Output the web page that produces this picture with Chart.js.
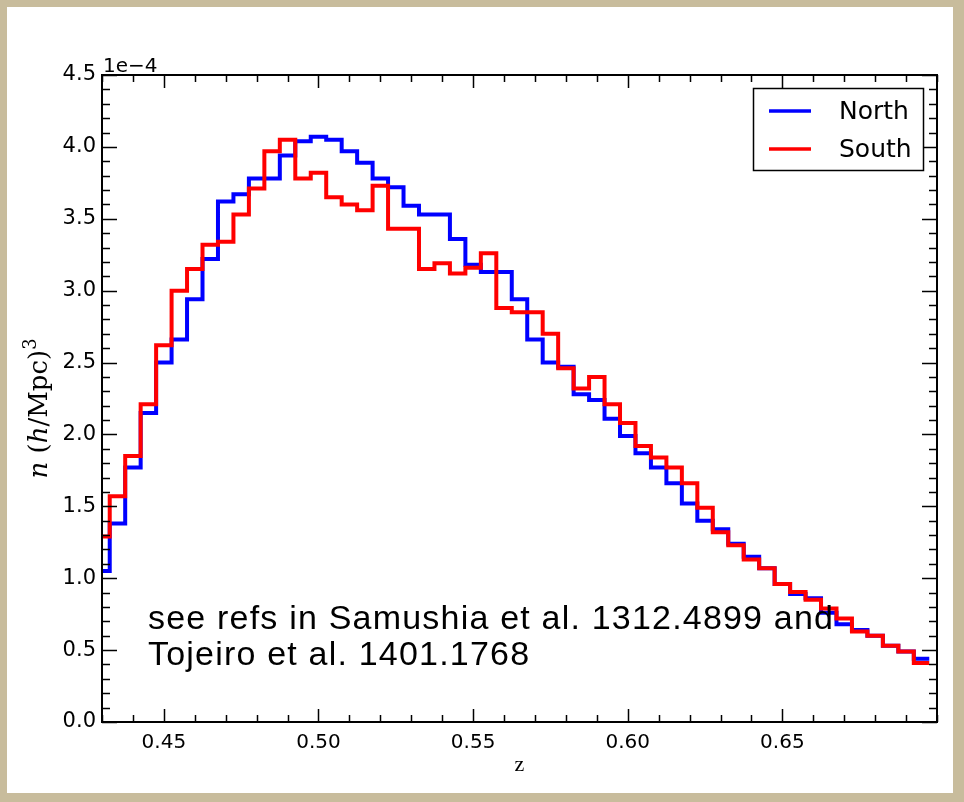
<!DOCTYPE html>
<html><head><meta charset="utf-8">
<script src="https://cdn.jsdelivr.net/npm/chart.js@4.4.1/dist/chart.umd.min.js"></script>
<style>
html,body{margin:0;padding:0;background:#c8bc9c;overflow:hidden;}
#wrap{position:absolute;left:0;top:0;width:964px;height:802px;}
#panel{position:absolute;left:7px;top:7px;width:946px;height:786px;background:#fff;}
canvas{position:absolute;left:0;top:0;}
</style></head><body>
<div id="wrap"><div id="panel"></div><canvas id="c" width="964" height="802"></canvas></div>
<script>
// bin centres (redshift z)
const binCenters = [0.430,0.435,0.440,0.445,0.450,0.455,0.460,0.465,0.470,0.475,
  0.480,0.485,0.490,0.495,0.500,0.505,0.510,0.515,0.520,0.525,
  0.530,0.535,0.540,0.545,0.550,0.555,0.560,0.565,0.570,0.575,
  0.580,0.585,0.590,0.595,0.600,0.605,0.610,0.615,0.620,0.625,
  0.630,0.635,0.640,0.645,0.650,0.655,0.660,0.665,0.670,0.675,
  0.680,0.685,0.690,0.695];
const binWidth = 0.005;
// n(z) in units of 1e-4 (h/Mpc)^3
const north = [1.05,1.38,1.77,2.15,2.50,2.66,2.94,3.22,3.62,3.67,
  3.78,3.78,3.94,4.04,4.07,4.05,3.97,3.89,3.78,3.72,
  3.59,3.53,3.53,3.36,3.18,3.13,3.13,2.94,2.66,2.50,
  2.47,2.28,2.24,2.11,1.99,1.87,1.77,1.66,1.52,1.40,
  1.34,1.24,1.15,1.07,0.96,0.89,0.86,0.76,0.68,0.64,
  0.60,0.53,0.49,0.44];
const south = [1.29,1.57,1.85,2.21,2.62,3.00,3.15,3.32,3.34,3.53,
  3.71,3.97,4.05,3.78,3.82,3.65,3.60,3.56,3.73,3.43,
  3.43,3.15,3.19,3.12,3.16,3.26,2.88,2.85,2.85,2.70,
  2.46,2.32,2.40,2.21,2.08,1.92,1.84,1.77,1.66,1.49,
  1.32,1.23,1.13,1.07,0.96,0.905,0.85,0.79,0.72,0.63,
  0.60,0.53,0.49,0.41];
const xTickValues = [0.45,0.50,0.55,0.60,0.65];
const yTickValues = [0.0,0.5,1.0,1.5,2.0,2.5,3.0,3.5,4.0,4.5];
const xMinorStep = 0.01, yMinorStep = 0.1;
const seriesNames = ['North','South'];
const seriesColors = ['#0000ff','#ff0000'];
const noteLines = ['see refs in Samushia et al. 1312.4899 and','Tojeiro et al. 1401.1768'];

function histPoints(vals){
  return binCenters.flatMap((c,i)=>[{x:c-binWidth/2,y:vals[i]},{x:c+binWidth/2,y:vals[i]}]);
}

const decor = {
  id:'decor',
  afterDatasetsDraw(chart){
    const {ctx, chartArea:a, scales:{x,y}} = chart;
    ctx.save();
    ctx.strokeStyle='#000'; ctx.lineWidth=1.5;
    const MAJ=13, MIN=7;
    ctx.beginPath();
    const isMajor=(arr,v)=>arr.some(t=>Math.abs(t-v)<1e-9);
    for(let i=Math.round(x.min/xMinorStep); i<=Math.round(x.max/xMinorStep); i++){
      const v=i*xMinorStep; const px=Math.round(x.getPixelForValue(v))+0.5;
      const L=isMajor(xTickValues,v)?MAJ:MIN;
      ctx.moveTo(px,a.bottom); ctx.lineTo(px,a.bottom-L);
      ctx.moveTo(px,a.top); ctx.lineTo(px,a.top+L);
    }
    for(let i=Math.round(y.min/yMinorStep); i<=Math.round(y.max/yMinorStep); i++){
      const v=i*yMinorStep; const py=Math.round(y.getPixelForValue(v))+0.5;
      const L=isMajor(yTickValues,v)?MAJ+2:MIN+1;
      ctx.moveTo(a.left,py); ctx.lineTo(a.left+L,py);
      ctx.moveTo(a.right,py); ctx.lineTo(a.right-L,py);
    }
    ctx.stroke();
    ctx.lineWidth=2;
    ctx.strokeRect(a.left,a.top,a.right-a.left,a.bottom-a.top);
    ctx.restore();
  },
  afterDraw(chart){
    const {ctx, chartArea:a} = chart;
    ctx.save();
    ctx.fillStyle='#000';
    ctx.font='20px "DejaVu Sans"';
    ctx.textBaseline='alphabetic'; ctx.textAlign='left';
    ctx.fillText('1e\u22124', a.left+1, a.top-3);
    // legend
    const lx=753, ly=88, lw=170, lh=82;
    ctx.fillStyle='#fff'; ctx.fillRect(lx,ly,lw,lh);
    ctx.strokeStyle='#000'; ctx.lineWidth=1.5; ctx.strokeRect(lx+0.5,ly+0.5,lw,lh);
    ctx.font='25px "DejaVu Sans"'; ctx.textBaseline='middle';
    seriesNames.forEach((n,i)=>{
      const yy = ly+23+i*38;
      ctx.strokeStyle=seriesColors[i]; ctx.lineWidth=3.5;
      ctx.beginPath(); ctx.moveTo(769,yy); ctx.lineTo(811,yy); ctx.stroke();
      ctx.fillStyle='#000'; ctx.fillText(n, 839, yy+1);
    });
    // annotation
    ctx.font='34px "Liberation Sans"'; ctx.textBaseline='alphabetic';
    if ('letterSpacing' in ctx) ctx.letterSpacing='1.2px';
    ctx.fillText(noteLines[0],148,629);
    ctx.fillText(noteLines[1],148,665);
    if ('letterSpacing' in ctx) ctx.letterSpacing='0px';
    // y-axis label  n (h/Mpc)^3
    ctx.translate(47,(a.top+a.bottom)/2+80);
    ctx.rotate(-Math.PI/2);
    const runs=[['n','italic 26px "DejaVu Serif"',0],[' (','26px "DejaVu Serif"',0],['h','italic 26px "DejaVu Serif"',0],
      ['/Mpc)','26px "DejaVu Serif"',0],['3','18px "DejaVu Serif"',-11]];
    let px=0;
    runs.forEach(([t,f,dy])=>{ctx.font=f; ctx.fillText(t,px,dy); px+=ctx.measureText(t).width;});
    ctx.restore();
  }
};

Chart.defaults.font.family='"DejaVu Sans"';
Chart.defaults.color='#000';
new Chart(document.getElementById('c'),{
  type:'line',
  data:{datasets:[
    {label:seriesNames[0],data:histPoints(north),borderColor:seriesColors[0],borderWidth:4,pointRadius:0,tension:0,fill:false,order:1,borderJoinStyle:'miter'},
    {label:seriesNames[1],data:histPoints(south),borderColor:seriesColors[1],borderWidth:4,pointRadius:0,tension:0,fill:false,order:0,borderJoinStyle:'miter'}
  ]},
  options:{
    responsive:false, animation:false, devicePixelRatio:1,
    layout:{padding:{left:0,right:27,top:75,bottom:0}},
    plugins:{legend:{display:false},tooltip:{enabled:false}},
    scales:{
      x:{type:'linear',min:0.43,max:0.70,
        afterBuildTicks:s=>{s.ticks=xTickValues.map(v=>({value:v}));},
        afterFit:s=>{s.height=80;},
        grid:{display:false,drawTicks:false},border:{display:false},
        ticks:{autoSkip:false,maxRotation:0,padding:9,font:{size:20},callback:v=>Number(v).toFixed(2)},
        title:{display:true,text:'z',font:{family:'"Liberation Serif"',size:22},padding:{top:0,bottom:24}}},
      y:{type:'linear',min:0,max:4.5,
        afterBuildTicks:s=>{s.ticks=yTickValues.map(v=>({value:v}));},
        afterFit:s=>{s.width=102;},
        grid:{display:false,drawTicks:false},border:{display:false},
        ticks:{padding:6,font:{size:21},callback:v=>Number(v).toFixed(1)}}
    }
  },
  plugins:[decor]
});
</script>
</body></html>
